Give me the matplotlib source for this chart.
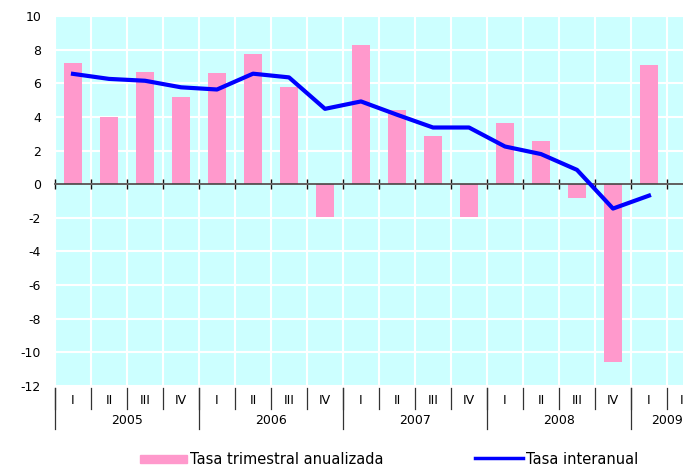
import matplotlib
matplotlib.use("Agg")
from matplotlib import pyplot as plt
from matplotlib.lines import Line2D
from matplotlib.patches import Rectangle
import numpy as np

plt.rcParams['font.family'] = ['DejaVu Sans']
plt.rcParams['axes.unicode_minus'] = False

# quarterly data 2005 I - 2009 I
quarters = ['I', 'II', 'III', 'IV'] * 4 + ['I', 'I']
years = ['2005', '2006', '2007', '2008', '2009']
year_pos = [1.5, 5.5, 9.5, 13.5, 16.5]
trimestral = [7.2, 4.0, 6.67, 5.18, 6.6, 7.74, 5.77, -1.95,
              8.29, 4.42, 2.87, -1.95, 3.65, 2.58, -0.85, -10.6, 7.1]
interanual = [6.56, 6.26, 6.15, 5.76, 5.63, 6.57, 6.35, 4.48,
              4.92, 4.13, 3.37, 3.37, 2.24, 1.79, 0.85, -1.45, -0.68]

W, H = 683, 466
fig = plt.figure(figsize=(W / 100, H / 100), dpi=100)
ax = fig.add_axes([55 / W, 1 - 386 / H, 1 - 55 / W, 370 / H])

x = np.arange(len(trimestral))
ax.bar(x, trimestral, 0.5, color='#FF99CC', zorder=2)
ax.plot(x, interanual, color='#0000FF', lw=3, zorder=3)

ax.set_facecolor('#CCFFFF')
ax.set_xlim(-0.5, 16.5 + 16 / 36)
ax.set_ylim(-12, 10)
ax.set_yticks(range(-12, 11, 2))
ax.set_xticks([])
ax.set_xticks(np.arange(-0.5, 17.5, 1), minor=True)
ax.yaxis.grid(True, color='white', lw=1.5)
ax.xaxis.grid(True, which='minor', color='white', lw=1.5)
ax.set_axisbelow(True)
for s in ['top', 'right', 'left']:
    ax.spines[s].set_visible(False)
ax.spines['bottom'].set_position(('data', 0))
ax.spines['bottom'].set_color('#444444')
ax.spines['bottom'].set_linewidth(1.2)
ax.tick_params(axis='x', which='minor', direction='inout', length=7,
               color='#111111', width=1, labelbottom=False)
ax.tick_params(axis='y', length=0, pad=10, labelsize=9)

# category labels under the plot
trans = ax.get_xaxis_transform()
xmax = ax.get_xlim()[1]
for b in np.arange(-0.5, 17.5, 1):
    ax.plot([b, b], [-2 / 370, -23 / 370], transform=trans, clip_on=False,
            color='#333333', lw=0.9)
for b in [-0.5, 3.5, 7.5, 11.5, 15.5]:
    ax.plot([b, b], [-2 / 370, -43 / 370], transform=trans, clip_on=False,
            color='#333333', lw=0.9)
for i, q in enumerate(quarters):
    if i < len(quarters) - 1:
        ax.text(i, -15 / 370, q, transform=trans, ha='center', va='center',
                fontsize=9, clip_on=False)
    else:
        # last slot is cut by the figure edge, keep its label just visible
        ax.text(xmax, -15 / 370, q, transform=trans, ha='right',
                va='center', fontsize=9, clip_on=False)
for p, y in zip(year_pos, years):
    ax.text(p, -35 / 370, y, transform=trans, ha='center',
            va='center', fontsize=9, clip_on=False)

# legend
fig.patches.append(Rectangle((140 / W, 1 - 463 / H), 47 / W, 8 / H,
                             transform=fig.transFigure, color='#FF99CC'))
fig.text(190 / W, 1 - 459 / H, 'Tasa trimestral anualizada', va='center',
         fontsize=10.5)
fig.add_artist(Line2D([475 / W, 523 / W], [1 - 458 / H, 1 - 458 / H],
                      transform=fig.transFigure, color='#0000FF', lw=2.5))
fig.text(526 / W, 1 - 459 / H, 'Tasa interanual', va='center', fontsize=10.5)

plt.savefig('out.png', dpi=100)
